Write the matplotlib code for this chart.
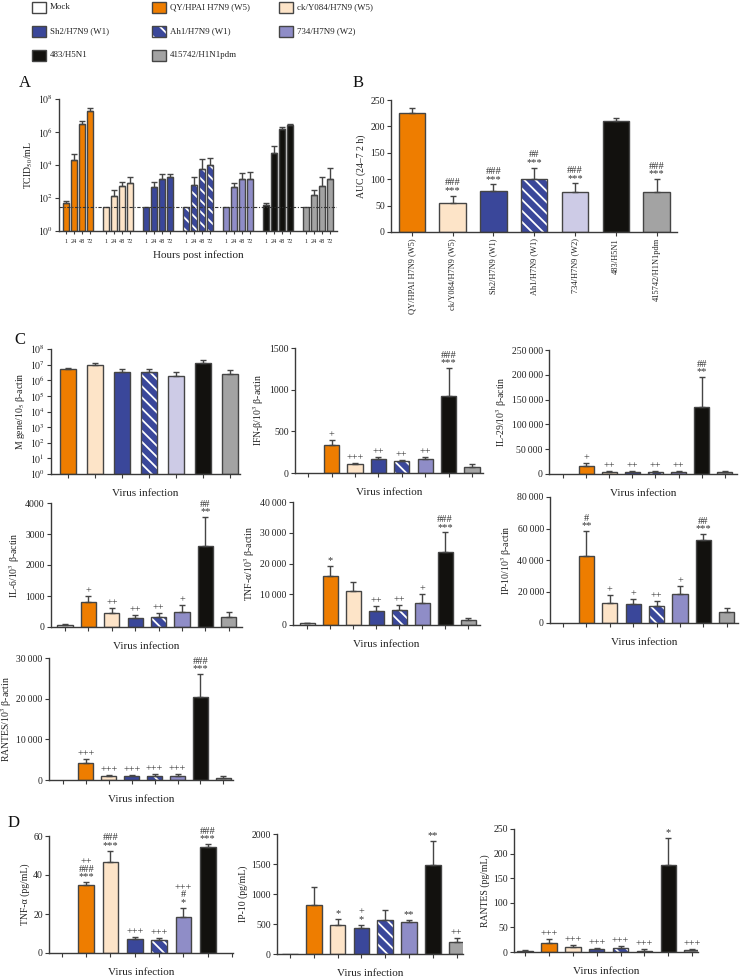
import numpy as np
import matplotlib
matplotlib.use('Agg')
import matplotlib.pyplot as plt
from matplotlib.patches import Rectangle
from matplotlib.ticker import FuncFormatter, NullLocator

plt.rcParams['font.family'] = ['Liberation Serif', 'DejaVu Serif']
plt.rcParams['mathtext.fontset'] = 'stix'
plt.rcParams['hatch.linewidth'] = 1.3

W, H = 741, 976

# ---- data ----
strains = ['Mock', 'QY/HPAI H7N9 (W5)', 'ck/Y084/H7N9 (W5)', 'Sh2/H7N9 (W1)',
           'Ah1/H7N9 (W1)', '734/H7N9 (W2)', '483/H5N1', '415742/H1N1pdm']
colors = ['white', '#EE7D00', '#FDE4C8', '#3A479A', '#3A479A', '#8F8DC7', '#12110E', '#A3A3A3']
hatches = [None, None, None, None, '\\\\\\', None, None, None]
light_734 = '#CDCBE6'

# panel A: titre per strain (QY..415742) at 1, 24, 48, 72 h
hours = ['1', '24', '48', '72']
titer_mean = [[50, 2e4, 3e6, 2e7],
              [30, 130, 500, 800],
              [30, 450, 1500, 2000],
              [30, 600, 6000, 1e4],
              [30, 480, 1400, 1500],
              [40, 5e4, 1.6e6, 2.5e6],
              [30, 150, 500, 1400]]
titer_err = [[15, 2.5e4, 1.5e6, 1e7],
             [0, 170, 400, 1200],
             [0, 450, 1500, 1000],
             [0, 1200, 1.6e4, 1.5e4],
             [0, 370, 1800, 2500],
             [10, 9e4, 4e5, 5e5],
             [0, 150, 1300, 5600]]
detection_limit = 30

# panel B: AUC (24-72 h)
auc_mean = [225, 55, 77, 101, 76, 211, 75]
auc_err = [10, 14, 13, 21, 16, 5, 26]
auc_marks = ['', '###\n***', '###\n***', '##\n***', '###\n***', '', '###\n***']

# panel C: lung mRNA (Mock, QY, ck, Sh2, Ah1, 734, 483, 415742)
mgene_mean = [5.5e6, 9e6, 3.5e6, 3.2e6, 2e6, 1.3e7, 2.5e6]
mgene_err = [0.5e6, 3e6, 2e6, 1.8e6, 1.3e6, 6e6, 1.8e6]

ifnb_mean = [0, 340, 110, 170, 140, 170, 930, 75]
ifnb_err = [0, 60, 10, 25, 15, 25, 330, 35]
ifnb_marks = ['', '+', '+++', '++', '++', '++', '###\n***', '']

il29_mean = [0, 17000, 4000, 4500, 4500, 4500, 135000, 4000]
il29_err = [0, 6000, 1500, 1500, 1500, 1500, 61000, 2000]
il29_marks = ['', '+', '++', '++', '++', '++', '##\n**', '']

il6_mean = [70, 800, 450, 300, 330, 480, 2600, 320]
il6_err = [20, 200, 170, 90, 120, 220, 950, 180]
il6_marks = ['', '+', '++', '++', '++', '+', '##\n**', '']

tnf_mean = [500, 16000, 11000, 4700, 5000, 7200, 23800, 1700]
tnf_err = [200, 3300, 3000, 1500, 1600, 2800, 6300, 600]
tnf_marks = ['', '*', '', '++', '++', '+', '###\n***', '']

ip10_mean = [0, 42500, 12800, 12000, 11000, 18500, 53000, 7000]
ip10_err = [0, 16000, 5000, 3500, 3000, 5000, 3500, 2500]
ip10_marks = ['', '#\n**', '+', '+', '++', '+', '##\n***', '']

rantes_mean = [0, 4200, 1000, 1000, 1100, 1000, 20500, 600]
rantes_err = [0, 900, 300, 350, 400, 500, 5500, 300]
rantes_marks = ['', '+++', '+++', '+++', '+++', '+++', '###\n***', '']

# panel D: protein (pg/mL)
tnf_pg_mean = [0, 35, 46.5, 7, 6.7, 18.5, 54.5, 0]
tnf_pg_err = [0, 1.5, 6, 1.3, 1, 4.8, 1.5, 0]
tnf_pg_marks = ['', '++\n###\n***', '###\n***', '+++', '+++', '+++\n#\n*', '###\n***', '']

ip10_pg_mean = [5, 820, 490, 430, 575, 540, 1490, 195]
ip10_pg_err = [0, 300, 100, 60, 165, 30, 400, 70]
ip10_pg_marks = ['', '', '*', '+\n*', '', '**', '**', '++']

rantes_pg_mean = [3, 19, 10, 6, 9, 3, 177, 5]
rantes_pg_err = [2, 8, 4, 2, 4, 3, 55, 2]
rantes_pg_marks = ['', '+++', '+++', '+++', '+++', '+++', '*', '+++']

EDGE = '#454545'
fig = plt.figure(figsize=(W / 100, H / 100), dpi=100)

# overlay for legend and panel letters (pixel coordinates)
base = fig.add_axes([0, 0, 1, 1])
base.set_xlim(0, W)
base.set_ylim(H, 0)
base.axis('off')

leg_pos = [(32, 7), (152, 7), (279, 7), (32, 31), (152, 31), (279, 31), (32, 55), (152, 55)]
for k, (lx, ly) in enumerate(leg_pos):
    if hatches[k]:
        base.add_patch(Rectangle((lx, ly - 5.5), 14, 11, facecolor=colors[k], edgecolor='white',
                                 hatch='\\\\', linewidth=0))
        base.add_patch(Rectangle((lx, ly - 5.5), 14, 11, fill=False, edgecolor=EDGE, linewidth=1))
    else:
        base.add_patch(Rectangle((lx, ly - 5.5), 14, 11, facecolor=colors[k], edgecolor=EDGE, linewidth=1))
    base.text(lx + 18, ly, strains[k], fontsize=6.4, va='center', ha='left', color='#222')

for letter, (lx, ly) in zip('ABCD', [(25, 83), (358, 83), (20, 340), (14, 823)]):
    base.text(lx, ly, letter, fontsize=12, ha='center', va='center', color='#111')


def axes_px(l, t, r, b):
    return fig.add_axes([l / W, 1 - b / H, (r - l) / W, (b - t) / H])


def style(ax):
    for s in ['top', 'right']:
        ax.spines[s].set_visible(False)
    for s in ['left', 'bottom']:
        ax.spines[s].set_color('#3a3a3a')
        ax.spines[s].set_linewidth(1)
    ax.tick_params(length=3, width=0.8, color='#3a3a3a', labelsize=7, pad=1.5,
                   direction='out', labelcolor='#222')


def thin_fmt(v, pos):
    s = f'{int(round(v)):,}'
    return s.replace(',', '\u2009') if v >= 10000 else s.replace(',', '')


def draw_bars(ax, x, vals, errs, idx, width, bottom=0, light=False, marks=None):
    for j, (xi, v, e, k) in enumerate(zip(x, vals, errs, idx)):
        fc = colors[k]
        if light and k == 5:
            fc = light_734
        h = v - bottom
        if hatches[k]:
            ax.bar(xi, h, width, bottom=bottom, color=fc, edgecolor='white',
                   hatch=hatches[k], linewidth=0, zorder=2)
            ax.bar(xi, h, width, bottom=bottom, fill=False, edgecolor=EDGE, linewidth=1, zorder=3)
        elif v > bottom:
            ax.bar(xi, h, width, bottom=bottom, color=fc, edgecolor=EDGE, linewidth=1, zorder=2)
        if e > 0:
            ax.errorbar(xi, v, yerr=[[0], [e]], fmt='none', ecolor=EDGE, elinewidth=1,
                        capsize=2.5, capthick=1, zorder=3)
        if marks and marks[j]:
            ax.annotate(marks[j], (xi, v + e), xytext=(0, 0.5), textcoords='offset points',
                        ha='center', va='bottom', fontsize=7.5, linespacing=0.78, color='#333')


def panel(box, xlim, vals, errs, ylim, yticks, ylabel, marks=None, width=0.65,
          log=False, light=False):
    ax = axes_px(*box)
    style(ax)
    n = len(vals)
    idx = list(range(8 - n, 8))
    x = np.arange(n)
    if log:
        ax.set_yscale('log')
    draw_bars(ax, x, vals, errs, idx, width, bottom=1 if log else 0, light=light, marks=marks)
    ax.set_xlim(*xlim)
    ax.set_ylim(*ylim)
    ax.set_xticks(x)
    ax.set_xticklabels([])
    ax.set_yticks(yticks)
    if log:
        ax.set_yticklabels([f'$10^{{{int(np.log10(t))}}}$' for t in yticks])
        ax.yaxis.set_minor_locator(NullLocator())
    else:
        ax.yaxis.set_major_formatter(FuncFormatter(thin_fmt))
    ax.set_ylabel(ylabel, fontsize=7, labelpad=2, color='#222')
    ax.set_xlabel('Virus infection', fontsize=8, labelpad=6, color='#222')
    return ax


# ---- panel A ----
axA = axes_px(59, 99, 337, 231)
style(axA)
axA.set_yscale('log')
xA, labA = [], []
for g in range(7):
    xs = [g * 5 + i for i in range(4)]
    draw_bars(axA, xs, titer_mean[g], titer_err[g], [g + 1] * 4, 0.75, bottom=1)
    xA += xs
    labA += hours
axA.axhline(detection_limit, color='#333', lw=0.8, ls=(0, (3, 1.5, 1, 1.5)), zorder=4)
axA.set_xlim(-0.9, 33.9)
axA.set_ylim(1, 1e8)
axA.set_yticks([1, 1e2, 1e4, 1e6, 1e8])
axA.set_yticklabels(['$10^0$', '$10^2$', '$10^4$', '$10^6$', '$10^8$'])
axA.yaxis.set_minor_locator(NullLocator())
axA.set_xticks(xA)
axA.set_xticklabels(labA, fontsize=4.5)
axA.tick_params(axis='x', length=2, pad=3.5)
axA.set_ylabel('TCID$_{50}$/mL', fontsize=7, labelpad=2, color='#222')
axA.set_xlabel('Hours post infection', fontsize=8, labelpad=5, color='#222')

# ---- panel B ----
axB = axes_px(391, 100, 677, 232)
style(axB)
xB = np.arange(7)
draw_bars(axB, xB, auc_mean, auc_err, list(range(1, 8)), 0.65, light=True, marks=auc_marks)
axB.set_xlim(-0.51, 6.5)
axB.set_ylim(0, 250)
axB.set_yticks([0, 50, 100, 150, 200, 250])
axB.set_xticks(xB)
axB.set_xticklabels(strains[1:], rotation=90, fontsize=6, va='top', ha='center')
axB.set_ylabel('AUC (24–7 2 h)', fontsize=7, labelpad=3, color='#222')

# ---- panel C ----
panel((51, 349, 240, 474), (-0.63, 6.37), mgene_mean, mgene_err, (1, 1e8),
      [10.0 ** p for p in range(9)], 'M gene/10$_5$ β-actin', width=0.6, log=True, light=True)
panel((295, 348, 483, 473), (-0.56, 7.47), ifnb_mean, ifnb_err, (0, 1500),
      [0, 500, 1000, 1500], 'IFN-β/10$^3$ β-actin', marks=ifnb_marks)
panel((549, 350, 737, 474), (-0.61, 7.53), il29_mean, il29_err, (0, 250000),
      [0, 50000, 100000, 150000, 200000, 250000], 'IL-29/10$^3$ β-actin', marks=il29_marks)
panel((51, 503, 242, 627), (-0.6, 7.56), il6_mean, il6_err, (0, 4000),
      [0, 1000, 2000, 3000, 4000], 'IL-6/10$^3$ β-actin', marks=il6_marks)
panel((293, 502, 480, 625), (-0.61, 7.52), tnf_mean, tnf_err, (0, 40000),
      [0, 10000, 20000, 30000, 40000], 'TNF-α/10$^3$ β-actin', marks=tnf_marks)
panel((550, 497, 738, 623), (-0.56, 7.48), ip10_mean, ip10_err, (0, 80000),
      [0, 20000, 40000, 60000, 80000], 'IP-10/10$^3$ β-actin', marks=ip10_marks)
panel((49, 658, 233, 780), (-0.61, 7.42), rantes_mean, rantes_err, (0, 30000),
      [0, 10000, 20000, 30000], 'RANTES/10$^3$ β-actin', marks=rantes_marks)

# ---- panel D ----
panel((49, 836, 233, 953), (-0.53, 7.04), tnf_pg_mean, tnf_pg_err, (0, 60),
      [0, 20, 40, 60], 'TNF-α (pg/mL)', marks=tnf_pg_marks)
panel((277, 834, 463, 954), (-0.55, 7.27), ip10_pg_mean, ip10_pg_err, (0, 2000),
      [0, 500, 1000, 1500, 2000], 'IP-10 (pg/mL)', marks=ip10_pg_marks)
panel((514, 829, 698, 952), (-0.46, 7.24), rantes_pg_mean, rantes_pg_err, (0, 250),
      [0, 50, 100, 150, 200, 250], 'RANTES (pg/mL)', marks=rantes_pg_marks)

fig.savefig('out.png', dpi=100)
